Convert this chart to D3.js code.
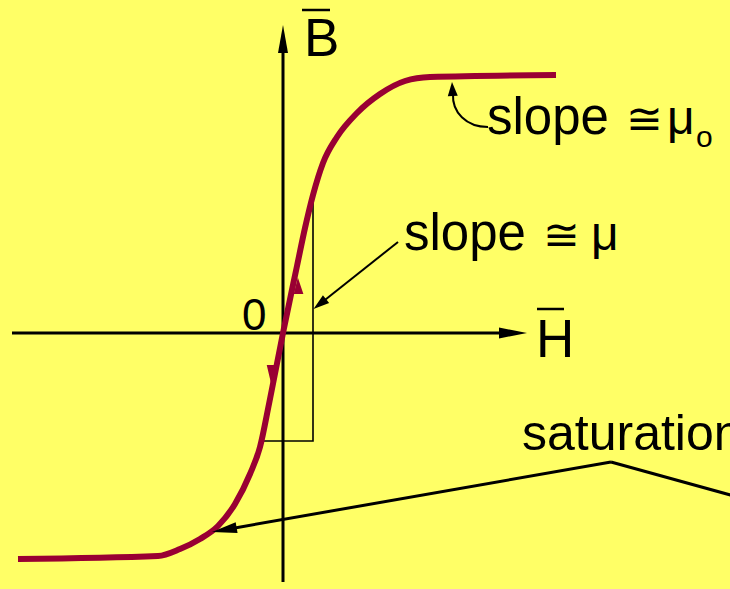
<!DOCTYPE html>
<html><head><meta charset="utf-8">
<script src="https://cdn.jsdelivr.net/npm/d3@7"></script>
<style>html,body{margin:0;padding:0;background:#ffff66;overflow:hidden}</style>
</head><body>
<script>
// Magnetization (B-H) curve data, arbitrary units
const hValues = [-26.5,-12.5,-10.3,-8.3,-6.5,-4.8,-3.3,-2.3,-1.4,0,1.4,2.2,3.0,4.0,5.4,7.4,9.7,12.2,14.7,27.3];
const bValues = [-22.6,-22.3,-21.6,-20.6,-19.3,-17.1,-14.1,-11.4,-7.1,0,6.7,10.5,13.8,17.0,19.6,22.0,23.9,25.2,25.6,25.8];
const axisLabels = {x: "H", y: "B", origin: "0"};
const annotations = ["slope", "\u2245", "\u03bc", "o", "saturation"];
// slope triangle corners (H, B)
const triH = [-2.1, 3.0];
const triB = [-10.8, 13.3];

const W = 730, H = 589;
const x = d3.scaleLinear().domain([-27.1, 24.4]).range([12, 527]);
const y = d3.scaleLinear().domain([-24.9, 30.8]).range([582, 25]);

const svg = d3.select("body").append("svg").attr("width", W).attr("height", H);
svg.append("rect").attr("width", W).attr("height", H).attr("fill", "#ffff66");

const font = "'Liberation Sans', Arial, sans-serif";
const curveColor = "#990033";

// axes
svg.append("line").attr("x1", x(-27.1)).attr("x2", x(21.6)).attr("y1", y(0)).attr("y2", y(0))
  .attr("stroke", "#000").attr("stroke-width", 3);
svg.append("path").attr("d", `M${x(24.4)},${y(0)} L${x(21.6)},${y(0)-5.5} L${x(21.6)},${y(0)+5.5} Z`).attr("fill", "#000");
svg.append("line").attr("x1", x(0)).attr("x2", x(0)).attr("y1", y(-24.9)).attr("y2", y(28.0))
  .attr("stroke", "#000").attr("stroke-width", 3);
svg.append("path").attr("d", `M${x(0)},${y(30.8)} L${x(0)-5},${y(28.0)} L${x(0)+5},${y(28.0)} Z`).attr("fill", "#000");

// slope triangle
svg.append("path")
  .attr("d", `M${x(triH[1])},${y(triB[1])} L${x(triH[1])},${y(triB[0])} L${x(triH[0])},${y(triB[0])}`)
  .attr("fill", "none").attr("stroke", "#000").attr("stroke-width", 1.6);

// curve
const pts = hValues.map((h, i) => [h, bValues[i]]);
const line = d3.line().x(d => x(d[0])).y(d => y(d[1])).curve(d3.curveMonotoneX);
svg.append("path").attr("d", line(pts)).attr("fill", "none")
  .attr("stroke", curveColor).attr("stroke-width", 6).attr("stroke-linecap", "butt");

// direction arrowheads on curve
svg.append("path").attr("d", `M${x(1.5)},${y(5.2)} L${x(1.9)},${y(4.0)} L${x(1.2)},${y(4.0)} Z`)
  .attr("fill", curveColor).attr("stroke", curveColor).attr("stroke-width", 2);
svg.append("path").attr("d", `M${x(-1.1)},${y(-5.0)} L${x(-1.5)},${y(-3.3)} L${x(-0.9)},${y(-3.3)} Z`)
  .attr("fill", curveColor).attr("stroke", curveColor).attr("stroke-width", 2);

function arrowHead(tx, ty, fx, fy, len, half) {
  const dx = fx - tx, dy = fy - ty, L = Math.hypot(dx, dy);
  const ux = dx / L, uy = dy / L;
  const bx = tx + ux * len, by = ty + uy * len;
  return `M${tx},${ty} L${bx - uy * half},${by + ux * half} L${bx + uy * half},${by - ux * half} Z`;
}

// slope ≅ μ annotation arrow
{
  const sx = 398, sy = 242, tx = x(3.05), ty = y(2.4);
  svg.append("line").attr("x1", sx).attr("y1", sy).attr("x2", tx + (sx - tx) * 0.12).attr("y2", ty + (sy - ty) * 0.12)
    .attr("stroke", "#000").attr("stroke-width", 2);
  svg.append("path").attr("d", arrowHead(tx, ty, sx, sy, 16, 5)).attr("fill", "#000");
}

// slope ≅ μo curved arrow
{
  svg.append("path").attr("d", `M488,127 C466,127 452,112 453,94`)
    .attr("fill", "none").attr("stroke", "#000").attr("stroke-width", 2);
  svg.append("path").attr("d", arrowHead(452, 82, 453, 100, 14, 5)).attr("fill", "#000");
}

// saturation lines
{
  const jx = 611, jy = 462, tx = 212, ty = 532;
  svg.append("line").attr("x1", jx).attr("y1", jy).attr("x2", tx + 20).attr("y2", ty - 3.6)
    .attr("stroke", "#000").attr("stroke-width", 3);
  svg.append("path").attr("d", arrowHead(tx, ty, jx, jy, 25, 5.5)).attr("fill", "#000");
  svg.append("line").attr("x1", jx).attr("y1", jy).attr("x2", 745).attr("y2", 499)
    .attr("stroke", "#000").attr("stroke-width", 3);
}

// texts
const t = (txt, px, py, size) => svg.append("text").attr("x", px).attr("y", py)
  .attr("font-family", font).attr("font-size", size).attr("fill", "#000").text(txt);

t(axisLabels.y, 304, 56, 53);
svg.append("line").attr("x1", 302).attr("x2", 330).attr("y1", 10).attr("y2", 10).attr("stroke", "#000").attr("stroke-width", 2.5);
t(axisLabels.x, 536, 357, 53);
svg.append("line").attr("x1", 537).attr("x2", 564).attr("y1", 309).attr("y2", 309).attr("stroke", "#000").attr("stroke-width", 2.5);
t(axisLabels.origin, 242, 330, 44);

t(annotations[0], 404, 250, 51);
t(annotations[1], 543, 250, 44);
t(annotations[2], 591, 250, 48);

t(annotations[0], 487, 134, 51);
t(annotations[1], 626, 134, 44);
t(annotations[2], 667, 134, 48);
t(annotations[3], 696, 147, 30);

t(annotations[4], 522, 450, 50);
</script>
</body></html>
